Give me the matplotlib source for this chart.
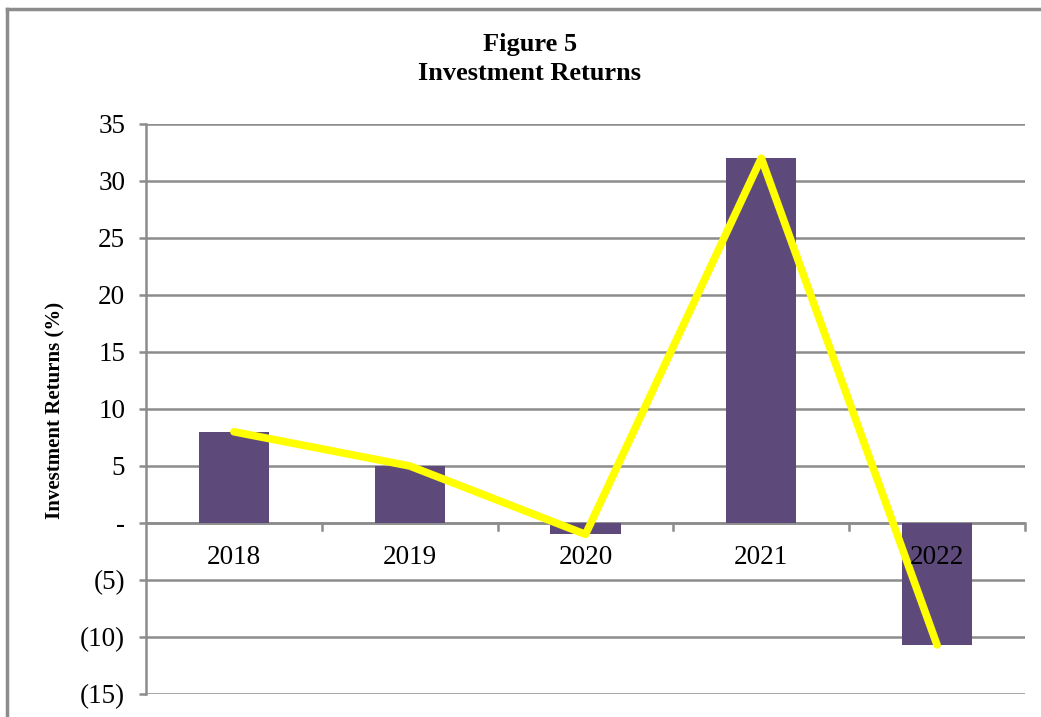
import matplotlib.pyplot as plt
from matplotlib.lines import Line2D

years = ['2018', '2019', '2020', '2021', '2022']
returns = [8.0, 5.0, -1.0, 32.0, -10.7]
yticks = [-15, -10, -5, 0, 5, 10, 15, 20, 25, 30, 35]
ytick_labels = ['(15)', '(10)', '(5)', '-', '5', '10', '15', '20', '25', '30', '35']

plt.rcParams['font.family'] = ['Liberation Serif', 'DejaVu Serif']
gris = '#8c8c8c'

fig = plt.figure(figsize=(10.41, 7.17), dpi=100)
ax = fig.add_axes([0.1403, 0.0321, 0.8443, 0.795])

x = range(len(years))
ax.bar(x, returns, width=0.4, color='#5e4a7a', zorder=2)
ax.plot(x, returns, color='#ffff00', linewidth=5.5, solid_capstyle='round',
        solid_joinstyle='round', zorder=3)

ax.set_xlim(-0.5, len(years) - 0.5)
ax.set_ylim(-15, 35)
ax.set_yticks(yticks)
ax.set_yticklabels(ytick_labels, fontsize=19.5)
ax.yaxis.grid(True, color=gris, linewidth=1.8, zorder=1)
ax.set_axisbelow(True)

for s in ['top', 'right', 'bottom']:
    ax.spines[s].set_visible(False)
ax.spines['left'].set_color(gris)
ax.spines['left'].set_linewidth(1.8)
ax.tick_params(axis='y', colors=gris, labelcolor='black', length=5, width=1.8, pad=10)

# eje x sobre el cero, con marcas entre categorias
ax.set_xticks([])
ax.axhline(0, color=gris, linewidth=1.8, zorder=1)
for b in [i + 0.5 for i in x]:
    ax.plot([b, b], [0, -0.6], color=gris, linewidth=1.8, zorder=1, clip_on=False)
for i, yr in zip(x, years):
    ax.text(i, -3.0, yr, ha='center', va='center', fontsize=19.5, zorder=4)

fig.text(55/1041, 1 - 410/717, 'Investment Returns (%)', rotation=90, ha='center',
         va='center', fontsize=15, fontweight='bold')

fig.text(0.509, 1 - 59/717, 'Figure 5\nInvestment Returns', ha='center', va='center',
         fontsize=19, fontweight='bold', linespacing=1.3)

# marco de la figura
fig.add_artist(Line2D([7/1041, 7/1041], [0, 1 - 9/717], color=gris, linewidth=2.5,
                      transform=fig.transFigure))
fig.add_artist(Line2D([7/1041, 1], [1 - 9/717, 1 - 9/717], color=gris, linewidth=2.5,
                      transform=fig.transFigure))

plt.savefig('out.png', dpi=100)
